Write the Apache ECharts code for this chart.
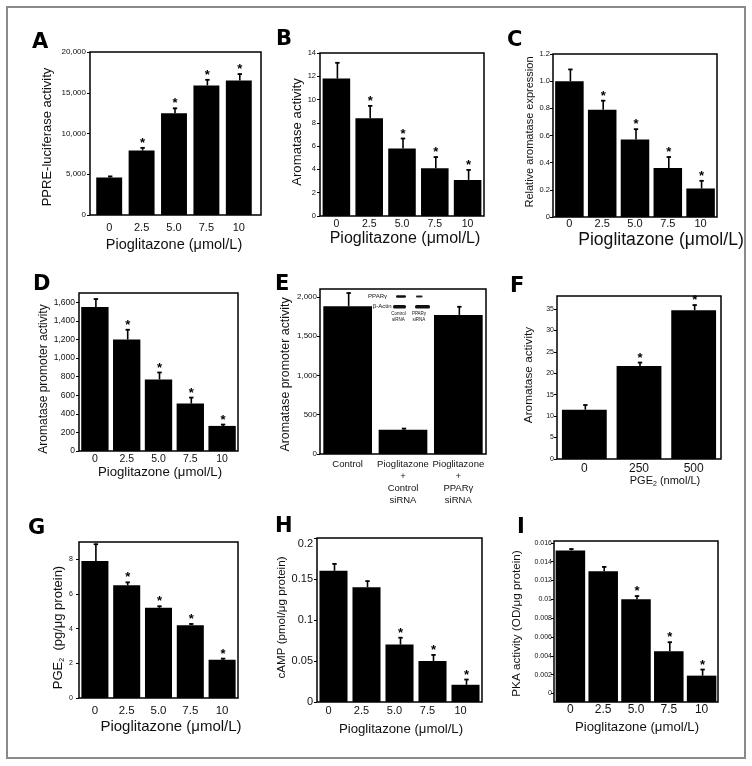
<!DOCTYPE html>
<html>
<head>
<meta charset="utf-8">
<script src="https://cdn.jsdelivr.net/npm/echarts@6/dist/echarts.min.js"></script>
<style>
html,body{margin:0;padding:0;background:#fff;}
#c{width:752px;height:766px;}
</style>
</head>
<body>
<div id="c"></div>
<script>
// ================= DATA =================
const doseCats = ['0', '2.5', '5.0', '7.5', '10'];
const pioTitle = 'Pioglitazone (μmol/L)';

// A
const aVals = [4600, 7900, 12500, 15900, 16500];
const aErr = [200, 400, 650, 750, 850];
const aSig = [0, 1, 1, 1, 1];
const aRange = [0, 20000];
const aTicks = [0, 5000, 10000, 15000, 20000];
const aTickLabels = ['0', '5,000', '10,000', '15,000', '20,000'];

// B
const bVals = [11.8, 8.4, 5.8, 4.1, 3.1];
const bErr = [1.4, 1.1, 0.9, 1.0, 0.9];
const bSig = [0, 1, 1, 1, 1];
const bRange = [0, 14];
const bTicks = [0, 2, 4, 6, 8, 10, 12, 14];
const bTickLabels = ['0', '2', '4', '6', '8', '10', '12', '14'];

// C
const cVals = [1.0, 0.79, 0.57, 0.36, 0.21];
const cErr = [0.09, 0.07, 0.08, 0.085, 0.06];
const cSig = [0, 1, 1, 1, 1];
const cRange = [0, 1.2];
const cTicks = [0, 0.2, 0.4, 0.6, 0.8, 1.0, 1.2];
const cTickLabels = ['0', '0.2', '0.4', '0.6', '0.8', '1.0', '1.2'];

// D
const dVals = [1550, 1200, 770, 510, 270];
const dErr = [90, 110, 80, 70, 20];
const dSig = [0, 1, 1, 1, 1];
const dRange = [0, 1700];
const dTicks = [0, 200, 400, 600, 800, 1000, 1200, 1400, 1600];
const dTickLabels = ['0', '200', '400', '600', '800', '1,000', '1,200', '1,400', '1,600'];

// E
const eCats = ['Control', 'Pioglitazone\n+\nControl\nsiRNA', 'Pioglitazone\n+\nPPARγ\nsiRNA'];
const eVals = [1880, 310, 1770];
const eErr = [175, 20, 110];
const eSig = [0, 0, 0];
const eRange = [0, 2100];
const eTicks = [0, 500, 1000, 1500, 2000];
const eTickLabels = ['0', '500', '1,000', '1,500', '2,000'];

// F
const fCats = ['0', '250', '500'];
const fVals = [11.5, 21.7, 34.7];
const fErr = [1.2, 0.9, 1.3];
const fSig = [0, 1, 1];
const fRange = [0, 38];
const fTicks = [0, 5, 10, 15, 20, 25, 30, 35];
const fTickLabels = ['0', '5', '10', '15', '20', '25', '30', '35'];

// G
const gVals = [7.9, 6.5, 5.2, 4.2, 2.2];
const gErr = [1.0, 0.2, 0.12, 0.1, 0.1];
const gSig = [0, 1, 1, 1, 1];
const gRange = [0, 9];
const gTicks = [0, 2, 4, 6, 8];
const gTickLabels = ['0', '2', '4', '6', '8'];

// H
const hVals = [0.16, 0.14, 0.07, 0.05, 0.021];
const hErr = [0.009, 0.008, 0.009, 0.008, 0.007];
const hSig = [0, 0, 1, 1, 1];
const hRange = [0, 0.2];
const hTicks = [0, 0.05, 0.1, 0.15, 0.2];
const hTickLabels = ['0', '0.05', '0.1', '0.15', '0.2'];

// I
const iVals = [0.0152, 0.013, 0.010, 0.0045, 0.0019];
const iErr = [0.0002, 0.0005, 0.0004, 0.001, 0.0007];
const iSig = [0, 0, 1, 1, 1];
const iRange = [-0.0009, 0.0162];
const iTicks = [0, 0.002, 0.004, 0.006, 0.008, 0.01, 0.012, 0.014, 0.016];
const iTickLabels = ['0', '0.002', '0.004', '0.006', '0.008', '0.01', '0.012', '0.014', '0.016'];

const panels = [
  {key: 'A', cats: doseCats, vals: aVals, err: aErr, sig: aSig, range: aRange, ticks: aTicks, tickLabels: aTickLabels, xTitle: pioTitle, yTitle: 'PPRE-luciferase activity'},
  {key: 'B', cats: doseCats, vals: bVals, err: bErr, sig: bSig, range: bRange, ticks: bTicks, tickLabels: bTickLabels, xTitle: pioTitle, yTitle: 'Aromatase activity'},
  {key: 'C', cats: doseCats, vals: cVals, err: cErr, sig: cSig, range: cRange, ticks: cTicks, tickLabels: cTickLabels, xTitle: pioTitle, yTitle: 'Relative aromatase expression'},
  {key: 'D', cats: doseCats, vals: dVals, err: dErr, sig: dSig, range: dRange, ticks: dTicks, tickLabels: dTickLabels, xTitle: pioTitle, yTitle: 'Aromatase promoter activity'},
  {key: 'E', cats: eCats, vals: eVals, err: eErr, sig: eSig, range: eRange, ticks: eTicks, tickLabels: eTickLabels, xTitle: '', yTitle: 'Aromatase promoter activity'},
  {key: 'F', cats: fCats, vals: fVals, err: fErr, sig: fSig, range: fRange, ticks: fTicks, tickLabels: fTickLabels, xTitle: 'PGE{s|2} (nmol/L)', yTitle: 'Aromatase activity'},
  {key: 'G', cats: doseCats, vals: gVals, err: gErr, sig: gSig, range: gRange, ticks: gTicks, tickLabels: gTickLabels, xTitle: pioTitle, yTitle: 'PGE{s|2}  (pg/μg protein)'},
  {key: 'H', cats: doseCats, vals: hVals, err: hErr, sig: hSig, range: hRange, ticks: hTicks, tickLabels: hTickLabels, xTitle: pioTitle, yTitle: 'cAMP (pmol/μg protein)'},
  {key: 'I', cats: doseCats, vals: iVals, err: iErr, sig: iSig, range: iRange, ticks: iTicks, tickLabels: iTickLabels, xTitle: pioTitle, yTitle: 'PKA activity (OD/μg protein)'}
];

// ================= LAYOUT / STYLE =================
const FONT = "'Liberation Sans', Arial, Helvetica, sans-serif";
const LFONT = "'DejaVu Sans', 'Liberation Sans', sans-serif";
const layout = {
  A: {g: [93, 52, 162, 163], frame: [90, 52, 171, 163], yo: 3, bw: '80%', yf: 8, ym: 4, xf: 11, xm: 7.5, xnf: 14.5, xng: 22.7, xns: 0, ynf: 13, yng: 36.5, yns: 3.5, letter: [32, 43]},
  B: {g: [320, 53, 164, 163], bw: '84%', yf: 7.5, ym: 4, xf: 10.5, xm: 2.7, xnf: 16, xng: 15, xns: 3, ynf: 13.2, yng: 16.4, yns: -2.5, letter: [276, 40]},
  C: {g: [553, 54, 164, 163], bw: '87%', yf: 7.5, ym: 3, xf: 11, xm: 1.5, xnf: 17.6, xng: 14.2, xns: 26, ynf: 11, yng: 14.2, yns: -3.5, letter: [507, 41]},
  D: {g: [79, 293, 159, 158], bw: '86%', yf: 8.5, ym: 4, xf: 10.5, xm: 3, xnf: 13.2, xng: 15, xns: 1.5, ynf: 12, yng: 26, yns: 7, letter: [33, 285]},
  E: {g: [320, 289, 166, 165], bw: '88%', yf: 8, ym: 3, xf: 9.5, xm: 4, xlh: 12, xnf: 12, xng: 20, xns: 0, ynf: 12.4, yng: 28.8, yns: 3, letter: [275, 285]},
  F: {g: [557, 296, 164, 163], bw: '82%', yf: 7, ym: 3, xf: 12, xm: 3.3, xnf: 11, xng: 15.5, xns: 26, ynf: 11.8, yng: 21.8, yns: -2.5, letter: [510, 287]},
  G: {g: [79, 542, 159, 156], bw: '85%', yf: 7, ym: 6, xf: 11.5, xm: 7, xnf: 15, xng: 21.5, xns: 12.5, ynf: 13, yng: 9.5, yns: 7.5, letter: [28, 529]},
  H: {g: [317, 538, 165, 164], bw: '85%', yf: 11, ym: 4, xf: 11, xm: 3.2, xls: -5, xnf: 13.2, xng: 20.4, xns: 1.5, ynf: 11.6, yng: 27.9, yns: -2.5, maxTop: true, letter: [275, 526.5]},
  I: {g: [554, 541, 164, 161], bw: 0.9, customBar: true, yf: 7, ym: 2, xf: 12, xm: 2, xnf: 13.2, xng: 18.4, xns: 1, ynf: 11.7, yng: 31.5, yns: 2, letter: [517, 527.5]}
};

const option = {
  animation: false,
  backgroundColor: '#ffffff',
  textStyle: {fontFamily: FONT},
  grid: [], xAxis: [], yAxis: [], series: [], graphic: []
};

function shiftPad(s) { return s >= 0 ? [0, 0, 0, 2 * s] : [0, -2 * s, 0, 0]; }
function shiftPadV(s) { return s >= 0 ? [0, 2 * s, 0, 0] : [0, 0, 0, -2 * s]; }

function addPanel(d) {
  const L = layout[d.key];
  const gi = option.grid.length;
  const step = d.ticks[1] - d.ticks[0];
  option.grid.push({
    left: L.g[0], top: L.g[1], width: L.g[2], height: L.g[3],
    show: !L.frame, borderColor: '#000', borderWidth: 1.5, backgroundColor: 'transparent',
    containLabel: false, outerBoundsMode: 'none'
  });
  const subRich = {s: {fontSize: 7, fontFamily: FONT, color: '#111', padding: [6, 0, 0, 0]}};
  option.xAxis.push({
    type: 'category', gridIndex: gi, data: d.cats,
    axisLine: {show: false}, axisTick: {show: false}, splitLine: {show: false},
    axisLabel: {interval: 0, fontSize: L.xf, margin: L.xm, color: '#111', fontFamily: FONT,
      lineHeight: L.xlh || undefined, padding: L.xls ? shiftPad(L.xls) : 0},
    name: d.xTitle, nameLocation: 'middle', nameGap: L.xng,
    nameTextStyle: {fontSize: L.xnf, color: '#111', fontFamily: FONT, padding: shiftPad(L.xns), rich: subRich}
  });
  const fmt = (v) => {
    const k = d.ticks.findIndex(t => Math.abs(t - v) < step * 1e-6);
    return k >= 0 ? d.tickLabels[k] : '';
  };
  const yAxis = {
    type: 'value', gridIndex: gi, min: d.range[0], max: d.range[1],
    offset: L.yo || 0,
    splitLine: {show: false}, axisLine: {show: false},
    axisTick: {show: true, length: 3, inside: false, lineStyle: {color: '#000', width: 1}, customValues: d.ticks},
    axisLabel: {fontSize: L.yf, margin: L.ym, color: '#111', fontFamily: FONT, formatter: fmt,
      customValues: d.ticks, showMaxLabel: true, verticalAlignMaxLabel: L.maxTop ? 'top' : null},
    name: d.yTitle, nameLocation: 'middle', nameGap: L.yng,
    nameTextStyle: {fontSize: L.ynf, color: '#111', fontFamily: FONT, padding: shiftPadV(L.yns), rich: subRich}
  };
  if (d.range[0] === 0) yAxis.interval = step;
  option.yAxis.push(yAxis);

  if (L.customBar) {
    option.series.push({
      type: 'custom', xAxisIndex: gi, yAxisIndex: gi, silent: true, z: 2,
      encode: {x: 0, y: 1},
      data: d.vals.map((v, i) => [i, v]),
      renderItem: (params, api) => {
        const i = api.value(0), v = api.value(1);
        const top = api.coord([i, v]);
        const base = api.coord([i, d.range[0]]);
        const w = api.size([1, 0])[0] * L.bw;
        return {type: 'rect', shape: {x: top[0] - w / 2, y: top[1], width: w, height: base[1] - top[1]}, style: {fill: '#000'}};
      }
    });
  } else {
    option.series.push({
      type: 'bar', xAxisIndex: gi, yAxisIndex: gi, silent: true, z: 2,
      data: d.vals, barWidth: L.bw, itemStyle: {color: '#000'}
    });
  }
  // error bars + significance stars
  option.series.push({
    type: 'custom', xAxisIndex: gi, yAxisIndex: gi, silent: true, z: 3, clip: false,
    encode: {x: 0, y: 1},
    data: d.vals.map((v, i) => [i, v, d.err[i], d.sig[i]]),
    renderItem: (params, api) => {
      const i = api.value(0), v = api.value(1), e = api.value(2), s = api.value(3);
      const b = api.coord([i, v]);
      const t = api.coord([i, v + e]);
      const ch = [
        {type: 'line', shape: {x1: b[0] + 1, y1: b[1], x2: t[0] + 1, y2: t[1]}, style: {stroke: '#000', lineWidth: 1.6}},
        {type: 'line', shape: {x1: t[0] - 1.2, y1: t[1] + 0.5, x2: t[0] + 3.2, y2: t[1] + 0.5}, style: {stroke: '#000', lineWidth: 1.8}}
      ];
      if (s) {
        ch.push({type: 'text', x: t[0] + 1, y: t[1] - 4, style: {text: '*', font: 'bold 13px ' + FONT, fill: '#000', align: 'center', verticalAlign: 'middle'}});
      }
      return {type: 'group', children: ch};
    }
  });

  if (L.frame) {
    const fi = option.grid.length;
    option.grid.push({left: L.frame[0], top: L.frame[1], width: L.frame[2], height: L.frame[3],
      show: true, borderColor: '#000', borderWidth: 1.5, backgroundColor: 'transparent', containLabel: false, outerBoundsMode: 'none'});
    option.xAxis.push({type: 'value', gridIndex: fi, show: false, min: 0, max: 1});
    option.yAxis.push({type: 'value', gridIndex: fi, show: false, min: 0, max: 1});
  }

  option.graphic.push({
    type: 'text', x: L.letter[0], y: L.letter[1], silent: true,
    style: {text: d.key, font: 'bold 21px ' + LFONT, fill: '#000', align: 'left', verticalAlign: 'middle'}
  });
}

panels.forEach(addPanel);

// outer figure border
option.graphic.push({type: 'rect', silent: true, shape: {x: 7, y: 7, width: 738, height: 751},
  style: {fill: 'none', stroke: '#8a8a8a', lineWidth: 2}});

// Western blot inset in panel E
const insetFont = (s) => s + 'px ' + FONT;
option.graphic.push(
  {type: 'text', x: 387, y: 296.5, silent: true, style: {text: 'PPARγ', font: insetFont(6), fill: '#111', align: 'right', verticalAlign: 'middle'}},
  {type: 'text', x: 391.5, y: 306.7, silent: true, style: {text: 'β-Actin', font: insetFont(6), fill: '#111', align: 'right', verticalAlign: 'middle'}},
  {type: 'rect', silent: true, shape: {x: 396, y: 295.2, width: 10, height: 2.6, r: 1.2}, style: {fill: '#111'}},
  {type: 'rect', silent: true, shape: {x: 416, y: 295.6, width: 6.5, height: 1.8, r: 0.9}, style: {fill: '#222'}},
  {type: 'rect', silent: true, shape: {x: 393, y: 305, width: 13, height: 3.4, r: 1.5}, style: {fill: '#111'}},
  {type: 'rect', silent: true, shape: {x: 415, y: 305, width: 15, height: 3.4, r: 1.5}, style: {fill: '#111'}},
  {type: 'text', x: 398.5, y: 313.7, silent: true, style: {text: 'Control', font: insetFont(4.5), fill: '#111', align: 'center', verticalAlign: 'middle'}},
  {type: 'text', x: 398.5, y: 320.2, silent: true, style: {text: 'siRNA', font: insetFont(4.5), fill: '#111', align: 'center', verticalAlign: 'middle'}},
  {type: 'text', x: 419, y: 313.7, silent: true, style: {text: 'PPARγ', font: insetFont(4.5), fill: '#111', align: 'center', verticalAlign: 'middle'}},
  {type: 'text', x: 419, y: 320.2, silent: true, style: {text: 'siRNA', font: insetFont(4.5), fill: '#111', align: 'center', verticalAlign: 'middle'}}
);

const chart = echarts.init(document.getElementById('c'), null, {renderer: 'canvas', width: 752, height: 766});
chart.setOption(option);
</script>
</body>
</html>
